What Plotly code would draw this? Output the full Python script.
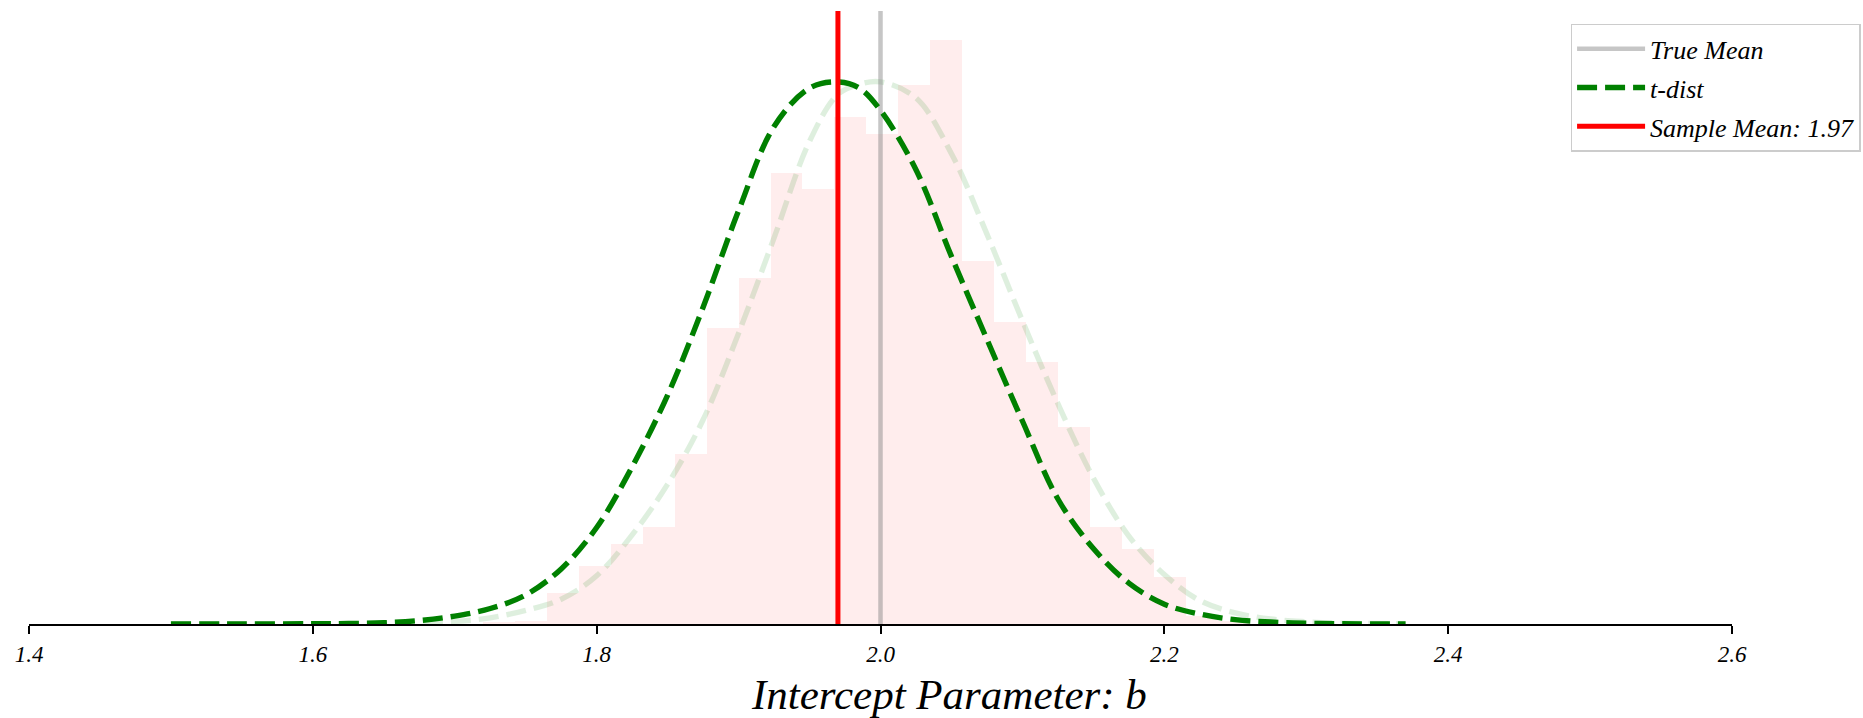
import numpy as np
import plotly.graph_objects as go

# ---------------- data ----------------
bin_width = 0.0225
bin_left = [1.7200, 1.7425, 1.7650, 1.7875, 1.8100, 1.8325, 1.8550, 1.8775,
            1.9000, 1.9225, 1.9450, 1.9675, 1.9900, 2.0125, 2.0350, 2.0575,
            2.0800, 2.1025, 2.1250, 2.1475, 2.1700, 2.1925, 2.2150, 2.2375]
hist_density = [0.016, 0.024, 0.248, 0.468, 0.646, 0.786, 1.371, 2.389,
                2.797, 3.645, 3.511, 4.093, 3.956, 4.359, 4.717, 2.935,
                2.439, 2.119, 1.589, 0.786, 0.606, 0.382, 0.065, 0.024]

curve_x = [1.500, 1.550, 1.600, 1.625, 1.650, 1.675, 1.700, 1.725, 1.750, 1.775,
           1.800, 1.825, 1.850, 1.875, 1.900, 1.925, 1.950, 1.970, 1.985, 2.000,
           2.025, 2.050, 2.075, 2.100, 2.125, 2.150, 2.175, 2.200, 2.225, 2.250,
           2.275, 2.300, 2.325, 2.370]
tdist_y = [0.001, 0.001, 0.002, 0.004, 0.010, 0.028, 0.064, 0.125, 0.235, 0.445,
           0.780, 1.270, 1.850, 2.560, 3.340, 4.020, 4.330, 4.380, 4.330, 4.150,
           3.670, 2.970, 2.300, 1.640, 1.010, 0.610, 0.330, 0.160, 0.080, 0.035,
           0.016, 0.006, 0.002, 0.001]
true_curve_y = [0.000, 0.000, 0.001, 0.001, 0.003, 0.008, 0.020, 0.050, 0.110, 0.200,
                0.390, 0.720, 1.130, 1.650, 2.350, 3.120, 3.900, 4.280, 4.360, 4.380,
                4.250, 3.800, 3.150, 2.450, 1.780, 1.180, 0.710, 0.400, 0.190, 0.090,
                0.040, 0.018, 0.007, 0.001]

true_mean = 2.0
sample_mean = 1.97

x_ticks = [1.4, 1.6, 1.8, 2.0, 2.2, 2.4, 2.6]
x_range = [1.4, 2.6]
x_label = "Intercept Parameter: b"

# ---------------- figure ----------------
centers = np.array(bin_left) + bin_width / 2
y_top = max(hist_density) * 1.05

serif = "Liberation Serif, Times New Roman, serif"

fig = go.Figure()

fig.add_trace(go.Bar(
    x=centers, y=hist_density, width=bin_width,
    marker=dict(color="rgba(255,0,0,0.07)", line=dict(width=0)),
    showlegend=False, hoverinfo="skip",
))

fig.add_trace(go.Scatter(
    x=curve_x, y=true_curve_y, mode="lines",
    line=dict(color="rgba(0,128,0,0.13)", width=5.4, dash="20px,8px", shape="spline"),
    showlegend=False, hoverinfo="skip",
))

fig.add_trace(go.Scatter(
    x=[true_mean, true_mean], y=[0, y_top], mode="lines",
    line=dict(color="rgba(128,128,128,0.45)", width=4.5),
    name="True Mean", legendgroup="g1",
))

fig.add_trace(go.Scatter(
    x=curve_x, y=tdist_y, mode="lines",
    line=dict(color="green", width=5.4, dash="20px,8px", shape="spline"),
    name="t-dist", legendgroup="g2",
))

fig.add_trace(go.Scatter(
    x=[sample_mean, sample_mean], y=[0, y_top], mode="lines",
    line=dict(color="red", width=5),
    name=f"Sample Mean: {sample_mean:.2f}", legendgroup="g3",
))

fig.update_layout(
    width=1863, height=718,
    margin=dict(l=29, r=131, t=11, b=94, autoexpand=False),
    plot_bgcolor="white", paper_bgcolor="white",
    bargap=0,
    font=dict(family=serif, color="black"),
    legend=dict(
        x=1.0755, xanchor="right", y=0.979, yanchor="top",
        bordercolor="#cccccc", borderwidth=1.5, bgcolor="white",
        font=dict(family=serif, size=26, style="italic", color="black"),
        itemwidth=68, tracegroupgap=2, traceorder="grouped",
    ),
    xaxis=dict(
        range=x_range, tickvals=x_ticks, tickformat=".1f",
        showgrid=False, zeroline=False,
        showline=True, linecolor="black", linewidth=2,
        ticks="outside", ticklen=8, tickwidth=1.5, tickcolor="black",
        tickfont=dict(family=serif, size=23, style="italic", color="black"),
    ),
    yaxis=dict(range=[0, y_top], visible=False, showgrid=False, zeroline=False),
    annotations=[dict(
        text=x_label, xref="paper", yref="paper",
        x=0.540, y=-0.115, xanchor="center", yanchor="middle",
        showarrow=False,
        font=dict(family=serif, size=43, style="italic", color="black"),
    )],
)

fig.write_html("out.html")
